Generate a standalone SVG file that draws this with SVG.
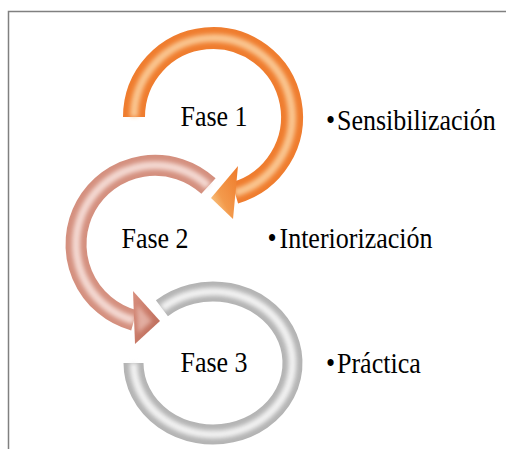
<svg xmlns="http://www.w3.org/2000/svg" width="506" height="449" viewBox="0 0 506 449">
  <defs>
    <filter id="soft" x="-20%" y="-20%" width="140%" height="140%">
      <feGaussianBlur stdDeviation="2"/>
    </filter>
    <linearGradient id="headOrange" x1="1" y1="0" x2="0" y2="1">
      <stop offset="0" stop-color="#ee7a2a"/>
      <stop offset="0.6" stop-color="#f39a4c"/>
      <stop offset="1" stop-color="#fbe0a8"/>
    </linearGradient>
    <linearGradient id="headRose" x1="0" y1="0" x2="1" y2="1">
      <stop offset="0" stop-color="#d8907f"/>
      <stop offset="0.5" stop-color="#c97a68"/>
      <stop offset="1" stop-color="#b86a58"/>
    </linearGradient>
  </defs>
  <style>
    .frame { fill: none; stroke: #808080; stroke-width: 1.5; }
    .tube { fill: none; stroke-linecap: butt; }
    .orange { stroke: #ef7d2f; stroke-width: 22; }
    .orange-hi { stroke: #fcd2a0; stroke-width: 8; opacity: 0.85; }
    .rose { stroke: #d4907f; stroke-width: 21; }
    .rose-hi { stroke: #f7e0da; stroke-width: 8; opacity: 0.9; }
    .grey { stroke: #b4b4b4; stroke-width: 20; }
    .grey-hi { stroke: #f4f4f4; stroke-width: 8; opacity: 0.95; }
    .label { font-family: "Liberation Serif", "Times New Roman", serif; font-size: 26px; fill: #000; }
  </style>

  <!-- outer frame (left and top edges) -->
  <path class="frame" d="M8.5 449 V11.5 H506"/>

  <g id="connectors">
    <!-- phase 3 ring (grey, no arrowhead) -->
    <g id="ring3">
      <path class="tube grey" d="M161.9 308.2 A79.5 71.5 0 1 1 133.5 363"/>
      <path class="tube grey-hi" filter="url(#soft)" d="M161.9 308.2 A79.5 71.5 0 1 1 133.5 363"/>
    </g>
    <!-- phase 2 ring (rose) ending in an arrow toward phase 3 -->
    <g id="ring2">
      <path class="tube rose" d="M208.5 186.1 A79 79 0 1 0 134 320.4"/>
      <path class="tube rose-hi" filter="url(#soft)" d="M208.5 186.1 A79 79 0 1 0 134 320.4"/>
      <polygon points="133,291 160,321 135,344" fill="url(#headRose)"/>
      <polygon points="137,305 152,321 138,333" fill="#f2cfc6" opacity="0.6" filter="url(#soft)"/>
    </g>
    <!-- phase 1 ring (orange) ending in an arrow toward phase 2 -->
    <g id="ring1">
      <path class="tube orange" d="M134 117 A79 79 0 1 1 235 192.9"/>
      <path class="tube orange-hi" filter="url(#soft)" d="M134 117 A79 79 0 1 1 235 192.9"/>
      <polygon points="238,166 211,198 233,219" fill="url(#headOrange)"/>
    </g>
  </g>

  <g id="phase1">
    <text class="label" text-anchor="middle" transform="translate(214 126) scale(1 1.1)">Fase 1</text>
    <text class="label" transform="translate(326 130) scale(1 1.1)">•<tspan x="11">Sensibilización</tspan></text>
  </g>
  <g id="phase2">
    <text class="label" text-anchor="middle" transform="translate(155 248) scale(1 1.1)">Fase 2</text>
    <text class="label" transform="translate(267.5 248) scale(1 1.1)">•<tspan x="12">Interiorización</tspan></text>
  </g>
  <g id="phase3">
    <text class="label" text-anchor="middle" transform="translate(214 372) scale(1 1.1)">Fase 3</text>
    <text class="label" transform="translate(326 373) scale(1 1.1)">•<tspan x="11">Práctica</tspan></text>
  </g>
</svg>
